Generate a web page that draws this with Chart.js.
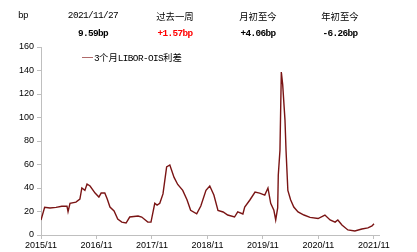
<!DOCTYPE html>
<html>
<head>
<meta charset="utf-8">
<script src="https://cdn.jsdelivr.net/npm/chart.js@4"></script>
<style>
  body { margin: 0; background: #fff; }
  #wrap { position: relative; width: 417px; height: 252px; }
  canvas { position: absolute; left: 0; top: 0; }
  .h { position: absolute; width: 80px; text-align: center; color: #000; white-space: nowrap; }
  .cjk { font-family: "Noto Sans CJK SC", sans-serif; font-size: 9.4px; }
  .num { font-family: "Liberation Mono", monospace; font-size: 9.4px; letter-spacing: -0.6px; }
  .b { font-weight: bold; }
  #legend { position: absolute; left: 82px; top: 47px; white-space: nowrap; }
  #legend .ln { display: inline-block; width: 11px; height: 0; border-top: 1.5px solid #b06a6a; vertical-align: middle; margin-right: 1px; }
</style>
</head>
<body>
<div id="wrap">
  <canvas id="chartCanvas" width="417" height="252"></canvas>
  <div class="h num" style="left:-17px;top:10px;">bp</div>
  <div class="h num" style="left:53px;top:10px;">2021/11/27</div>
  <div class="h cjk" style="left:135px;top:9px;">过去一周</div>
  <div class="h cjk" style="left:218px;top:9px;">月初至今</div>
  <div class="h cjk" style="left:300px;top:9px;">年初至今</div>
  <div class="h num b" style="left:53px;top:28px;">9.59bp</div>
  <div class="h num b" style="left:135px;top:28px;color:#ff0000;">+1.57bp</div>
  <div class="h num b" style="left:218px;top:28px;">+4.06bp</div>
  <div class="h num b" style="left:300px;top:28px;">-6.26bp</div>
  <div id="legend"><span class="ln"></span><span class="num">3</span><span class="cjk">个月</span><span class="num">LIBOR-OIS</span><span class="cjk">利差</span></div>
</div>
<script>
const dates = [
  '2015-11-27', '2015-12-21', '2016-01-25', '2016-03-05', '2016-04-12', '2016-05-16', '2016-05-23',
  '2016-06-05', '2016-07-14', '2016-08-09', '2016-08-22', '2016-09-11', '2016-09-25', '2016-10-15',
  '2016-11-17', '2016-12-12', '2016-12-27', '2017-01-20', '2017-02-05', '2017-02-23', '2017-03-22',
  '2017-04-15', '2017-05-12', '2017-06-09', '2017-07-03', '2017-08-27', '2017-09-20', '2017-10-30',
  '2017-11-20', '2017-12-15', '2017-12-30', '2018-01-17', '2018-02-07', '2018-03-03', '2018-03-24',
  '2018-04-21', '2018-05-15', '2018-06-17', '2018-07-15', '2018-08-08', '2018-09-17', '2018-10-14',
  '2018-11-17', '2018-12-12', '2019-01-08', '2019-02-04', '2019-03-10', '2019-04-09', '2019-05-24',
  '2019-06-14', '2019-07-18', '2019-07-30', '2019-09-02', '2019-10-06', '2019-11-05', '2019-12-09',
  '2019-12-30', '2020-01-17', '2020-02-07', '2020-02-19', '2020-03-03', '2020-03-07', '2020-03-18',
  '2020-03-27', '2020-04-05', '2020-04-20', '2020-04-27', '2020-05-09', '2020-05-27', '2020-06-17',
  '2020-07-15', '2020-08-23', '2020-10-02', '2020-11-24', '2021-01-08', '2021-02-11', '2021-03-16',
  '2021-04-03', '2021-04-30', '2021-06-08', '2021-07-24', '2021-09-08', '2021-10-18', '2021-11-14',
  '2021-11-27'
];
const spread = [
  12.8, 23.6, 23, 23.5, 24.5, 24.5, 19.8,
  27, 28, 30.6, 40, 38, 43.4, 41.7,
  35.7, 32.3, 35.7, 35.7, 30.6, 23.8, 20.4,
  13.6, 11, 10.2, 15.3, 16.2, 15.3, 11,
  11, 27, 25.5, 27, 35, 58, 59.6,
  49, 43, 38, 30, 21, 18, 24.7,
  38, 41.7, 34, 21, 19.6, 17, 15.3,
  19.6, 17.9, 23.8, 29.8, 36.6, 35.7, 34,
  40, 27, 21, 12.8, 23, 51, 72,
  138.7, 128, 98, 72, 38, 30, 23.8,
  19.6, 17, 15, 14, 17, 12.8, 11,
  12.8, 8.5, 4.3, 3.4, 5.1, 6, 7.7,
  9.59
];
const xTicks = [0, 12, 24, 36, 48, 60, 72];
const xTickLabels = ['2015/11', '2016/11', '2017/11', '2018/11', '2019/11', '2020/11', '2021/11'];

const origin = Date.UTC(2015, 10, 27);
const monthMs = 365.25 / 12 * 86400000;
const points = dates.map((d, i) => {
  const [y, m, dd] = d.split('-').map(Number);
  return { x: (Date.UTC(y, m - 1, dd) - origin) / monthMs, y: spread[i] };
});

const axisGray = '#bfbfbf';
const tickFont = { family: 'Liberation Sans, Arial, sans-serif', size: 9 };

new Chart(document.getElementById('chartCanvas'), {
  type: 'line',
  data: {
    datasets: [{
      label: '3个月LIBOR-OIS利差',
      data: points,
      borderColor: '#7a1414',
      borderWidth: 1.4,
      pointRadius: 0,
      tension: 0
    }]
  },
  options: {
    responsive: false,
    animation: false,
    layout: { padding: { left: 0, right: 38, top: 47, bottom: 0 } },
    plugins: { legend: { display: false }, tooltip: { enabled: false } },
    scales: {
      x: {
        type: 'linear',
        min: 0,
        max: 73.1,
        afterBuildTicks: axis => { axis.ticks = xTicks.map(v => ({ value: v })); },
        afterFit: axis => { axis.height = 17; },
        ticks: {
          color: '#000',
          font: tickFont,
          padding: 1,
          maxRotation: 0,
          autoSkip: false,
          callback: v => xTickLabels[xTicks.indexOf(v)]
        },
        grid: { drawOnChartArea: false, drawTicks: true, tickLength: 4, color: axisGray },
        border: { color: axisGray }
      },
      y: {
        min: 0,
        max: 160,
        afterFit: axis => { axis.width = 41; },
        ticks: { stepSize: 20, color: '#000', font: tickFont, padding: 3 },
        grid: { drawOnChartArea: false, drawTicks: true, tickLength: 4, color: axisGray },
        border: { color: axisGray }
      }
    }
  }
});
</script>
</body>
</html>
